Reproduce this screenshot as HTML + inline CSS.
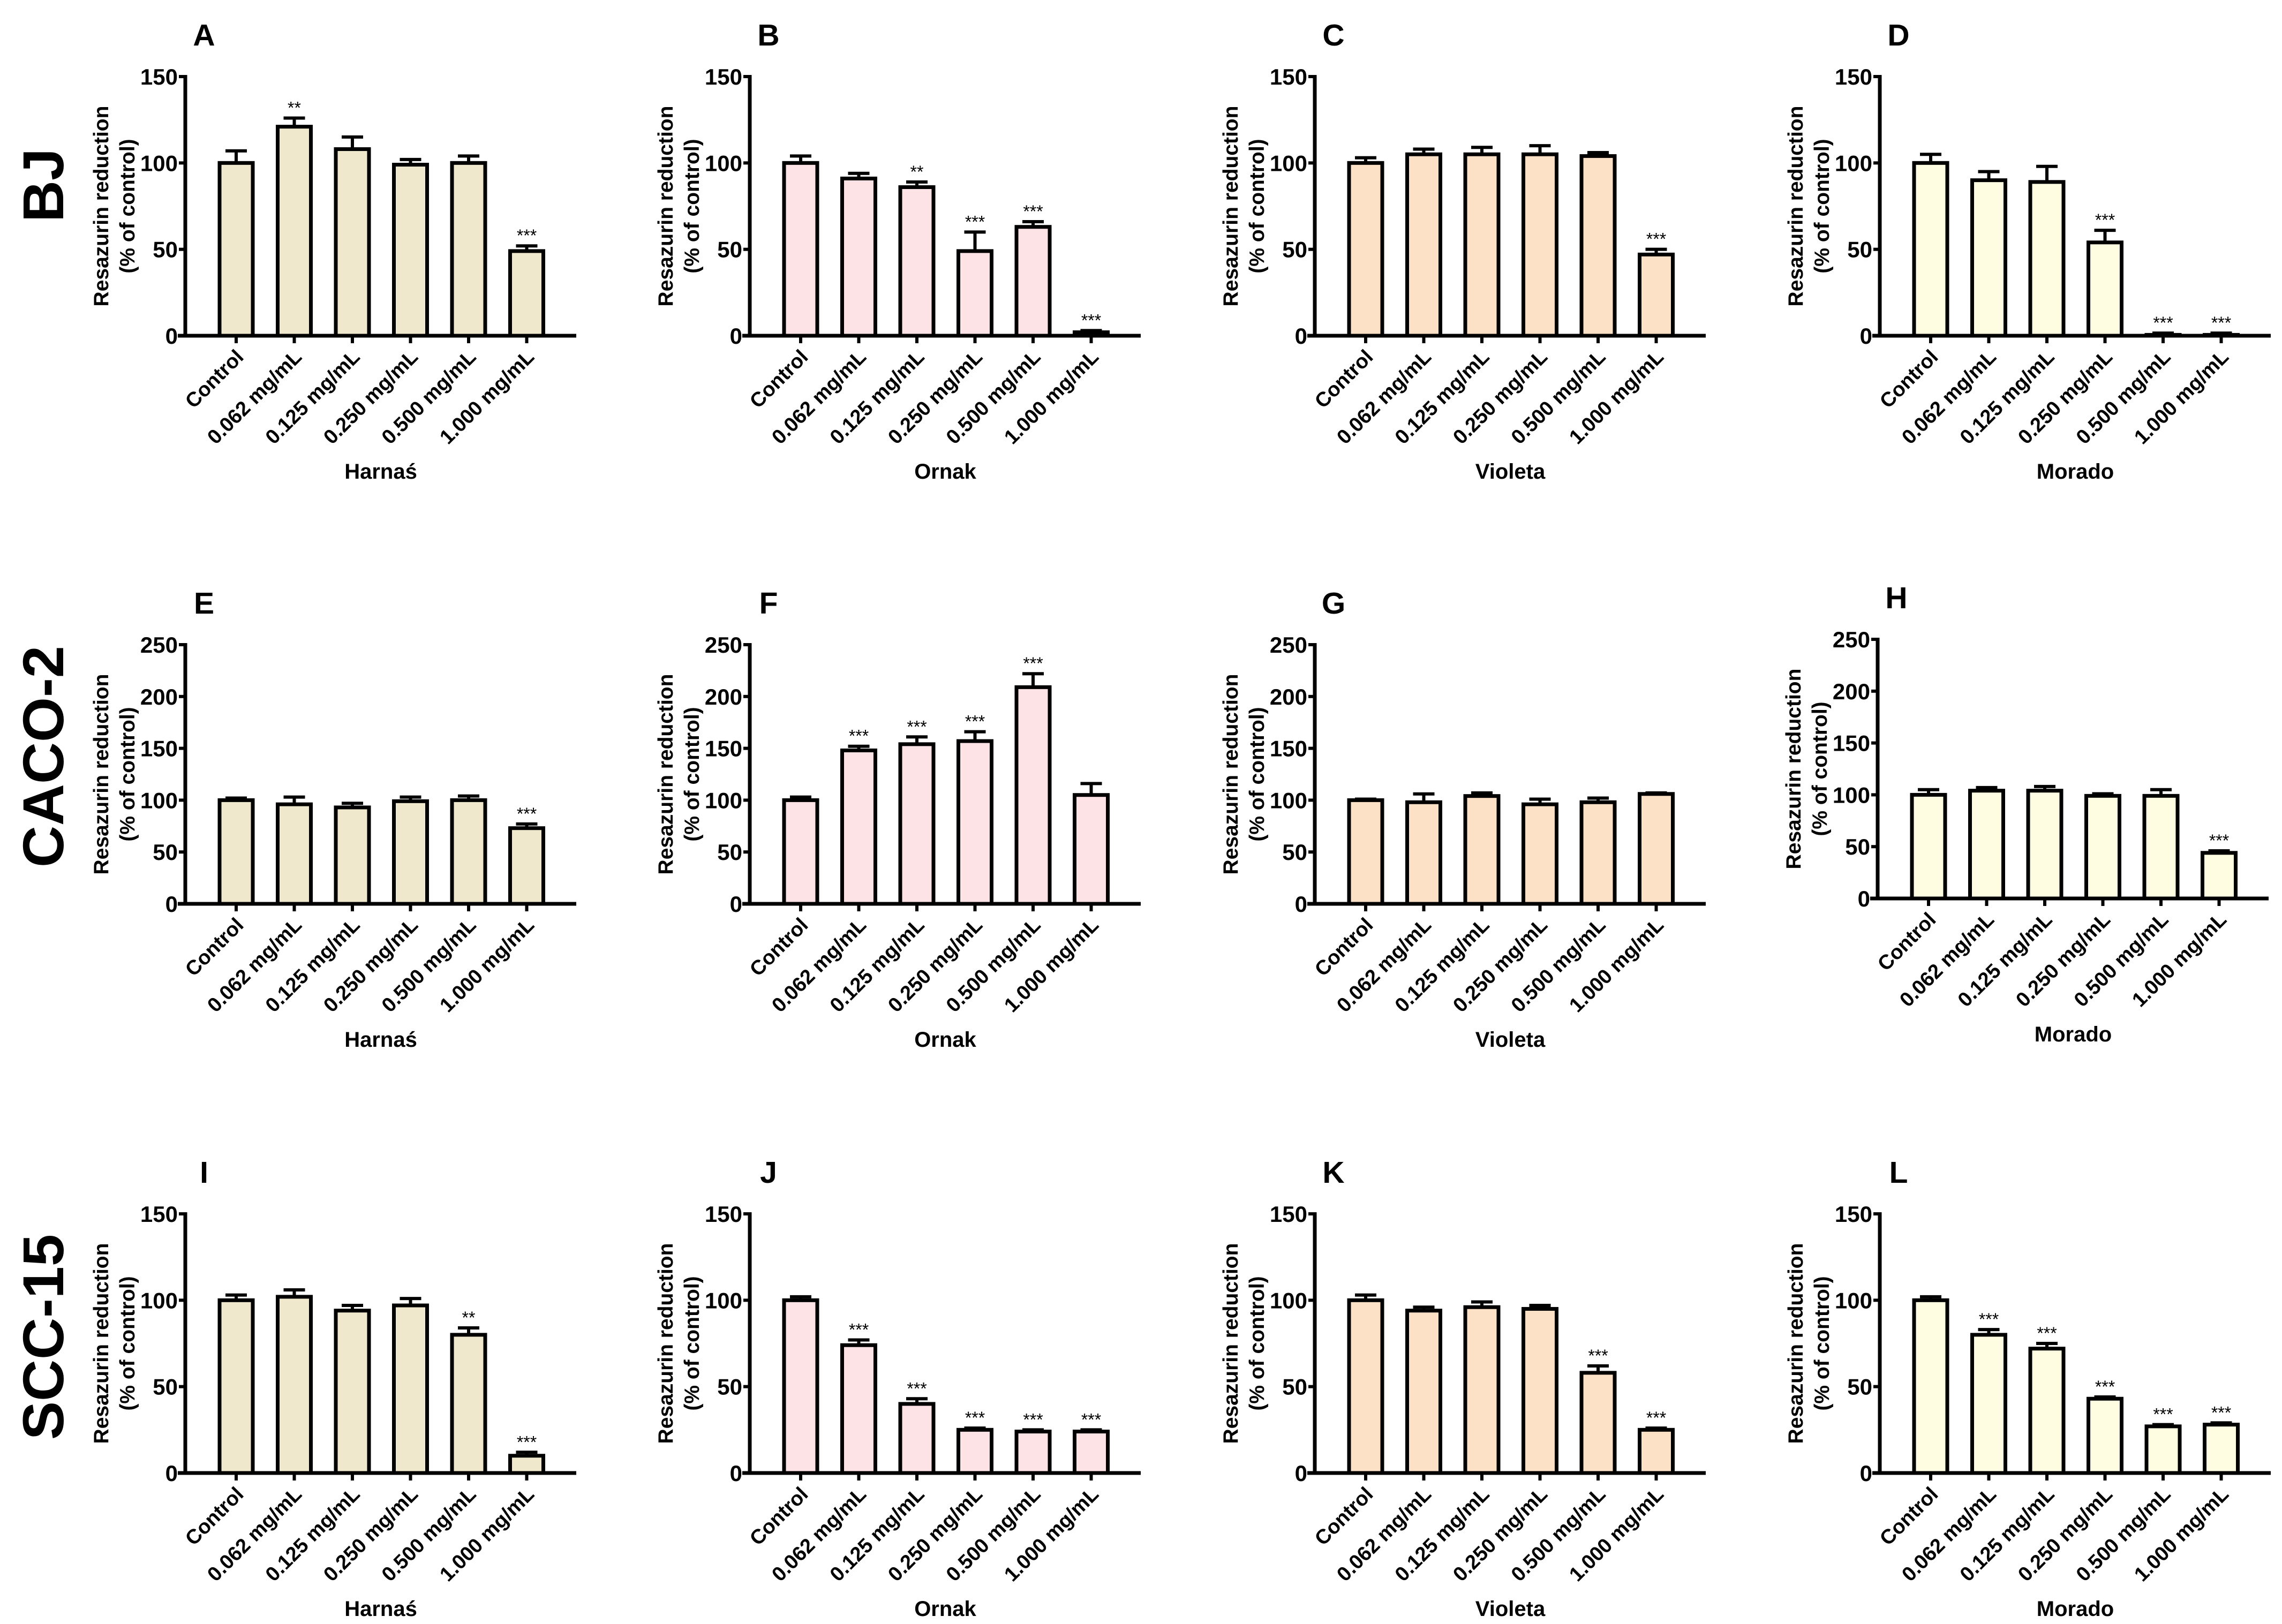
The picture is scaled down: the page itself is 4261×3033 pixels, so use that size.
<!DOCTYPE html>
<html><head><meta charset="utf-8"><style>
html,body{margin:0;padding:0;background:#fff}
svg{display:block}
text{font-family:"Liberation Sans",Arial,sans-serif;font-weight:bold;fill:#000}
.tick{font-family:"Liberation Sans Narrow","Liberation Sans",sans-serif;font-size:42px}
</style></head><body>
<svg id="fig" width="4261" height="3033" viewBox="0 0 4261 3033" xmlns="http://www.w3.org/2000/svg">
<text transform="translate(118,346) rotate(-90)" text-anchor="middle" font-size="108">BJ</text>
<text transform="translate(118,1413) rotate(-90)" text-anchor="middle" font-size="108">CACO-2</text>
<text transform="translate(118,2497) rotate(-90)" text-anchor="middle" font-size="108">SCC-15</text>
</svg>
<script>
const categories = ["Control","0.062 mg/mL","0.125 mg/mL","0.250 mg/mL","0.500 mg/mL","1.000 mg/mL"];
const panelLetters = ["A","B","C","D","E","F","G","H","I","J","K","L"];
const extracts = ["Harnaś","Ornak","Violeta","Morado"];
const yMaxByRow = [150,250,150];
const valA = [100,121,108,99,100,49];   const errA = [107,126,115,102,104,52]; const sigA = ["","**","","","","***"];
const valB = [100,91,86,49,63,2];       const errB = [104,94,89,60,66,3];      const sigB = ["","","**","***","***","***"];
const valC = [100,105,105,105,104,47];  const errC = [103,108,109,110,106,50]; const sigC = ["","","","","","***"];
const valD = [100,90,89,54,0.5,0.5];    const errD = [105,95,98,61,1.5,1.5];   const sigD = ["","","","***","***","***"];
const valE = [100,96,93,99,100,73];     const errE = [102,103,97,103,104,77];  const sigE = ["","","","","","***"];
const valF = [100,148,154,157,209,105]; const errF = [103,152,161,166,222,116]; const sigF = ["","***","***","***","***",""];
const valG = [100,98,104,96,98,106];    const errG = [101,106,107,101,102,107]; const sigG = ["","","","","",""];
const valH = [100,104,104,99,99,44];    const errH = [105,107,108,101,105,46]; const sigH = ["","","","","","***"];
const valI = [100,102,94,97,80,10];     const errI = [103,106,97,101,84,12];   const sigI = ["","","","","**","***"];
const valJ = [100,74,40,25,24,24];      const errJ = [102,77,43,26,25,25];     const sigJ = ["","***","***","***","***","***"];
const valK = [100,94,96,95,58,25];      const errK = [103,96,99,97,62,26];     const sigK = ["","","","","***","***"];
const valL = [100,80,72,43,27,28];      const errL = [102,83,75,44,28,29];     const sigL = ["","***","***","***","***","***"];
const values = [valA,valB,valC,valD,valE,valF,valG,valH,valI,valJ,valK,valL];
const errs = [errA,errB,errC,errD,errE,errF,errG,errH,errI,errJ,errK,errL];
const sigs = [sigA,sigB,sigC,sigD,sigE,sigF,sigG,sigH,sigI,sigJ,sigK,sigL];
const fills = ["#EFE8CC","#FDE3E6","#FDE1C6","#FEFDE2"];

const NS="http://www.w3.org/2000/svg";
const svg=document.getElementById('fig');
const colX=[346,1400,2455,3510];
const rowZero=[627,1688,2751];
const axH=484, axW=730;
function mk(tag,attrs,parent){const e=document.createElementNS(NS,tag);for(const k in attrs)e.setAttribute(k,attrs[k]);(parent||svg).appendChild(e);return e;}

for(let p=0;p<12;p++){
  const row=Math.floor(p/4), col=p%4;
  let ax=colX[col], zy=rowZero[row];
  if(p===7){ax=3506;zy=1678;}
  const ymax=yMaxByRow[row];
  const yS=v=>zy-v/ymax*axH;
  const xS=i=>ax+95+108.5*i;
  const g=mk('g',{});
  
  
  const lt=mk('text',{x:ax+35,y:zy-542,'font-size':57,'text-anchor':'middle'},g);
  lt.textContent=panelLetters[p];
  
  
  const yt=mk('text',{transform:`translate(${ax-158+14},${zy-axH/2}) rotate(-90)`,'font-size':39,'text-anchor':'middle'},g);
  yt.textContent='Resazurin reduction';
  
  
  const yt2=mk('text',{transform:`translate(${ax-109+14},${zy-axH/2}) rotate(-90)`,'font-size':39,'text-anchor':'middle'},g);
  yt2.textContent='(% of control)';
  
  
  for(let v=0;v<=ymax;v+=50){
    const y=yS(v);
    mk('line',{x1:ax-12,x2:ax,y1:y,y2:y,stroke:'#000','stroke-width':6},g);
    const t=mk('text',{x:ax-14,y:y+15,'text-anchor':'end',class:'tick'},g);
    t.textContent=String(v);
    
    
  }
  for(let i=0;i<6;i++){
    const cx=xS(i), top=yS(values[p][i]), et=yS(errs[p][i]);
    mk('line',{x1:cx,x2:cx,y1:top,y2:et,stroke:'#000','stroke-width':6},g);
    mk('line',{x1:cx-20,x2:cx+20,y1:et,y2:et,stroke:'#000','stroke-width':6},g);
    const b=mk('rect',{x:cx-31,y:top,width:62,height:Math.max(zy-top,0.5),fill:fills[col],stroke:'#000','stroke-width':7},g);
    
    
    if(sigs[p][i]){
      const s=mk('text',{x:cx,y:et-8,'text-anchor':'middle','font-size':32,style:'font-weight:normal'},g);
      s.textContent=sigs[p][i];
      
      
    }
    mk('line',{x1:cx,x2:cx,y1:zy,y2:zy+14,stroke:'#000','stroke-width':6},g);
    const c=mk('text',{transform:`translate(${cx+16},${zy+42}) rotate(-45)`,'text-anchor':'end','font-size':38},g);
    c.textContent=categories[i];
    
    
  }
  mk('line',{x1:ax,x2:ax,y1:zy-axH-3,y2:zy+3,stroke:'#000','stroke-width':7},g);
  mk('line',{x1:ax-14,x2:ax+axW,y1:zy,y2:zy,stroke:'#000','stroke-width':7},g);
  const xt=mk('text',{x:ax+365,y:zy+267,'text-anchor':'middle','font-size':40},g);
  xt.textContent=extracts[col];
  
  
}
</script>
</body></html>
